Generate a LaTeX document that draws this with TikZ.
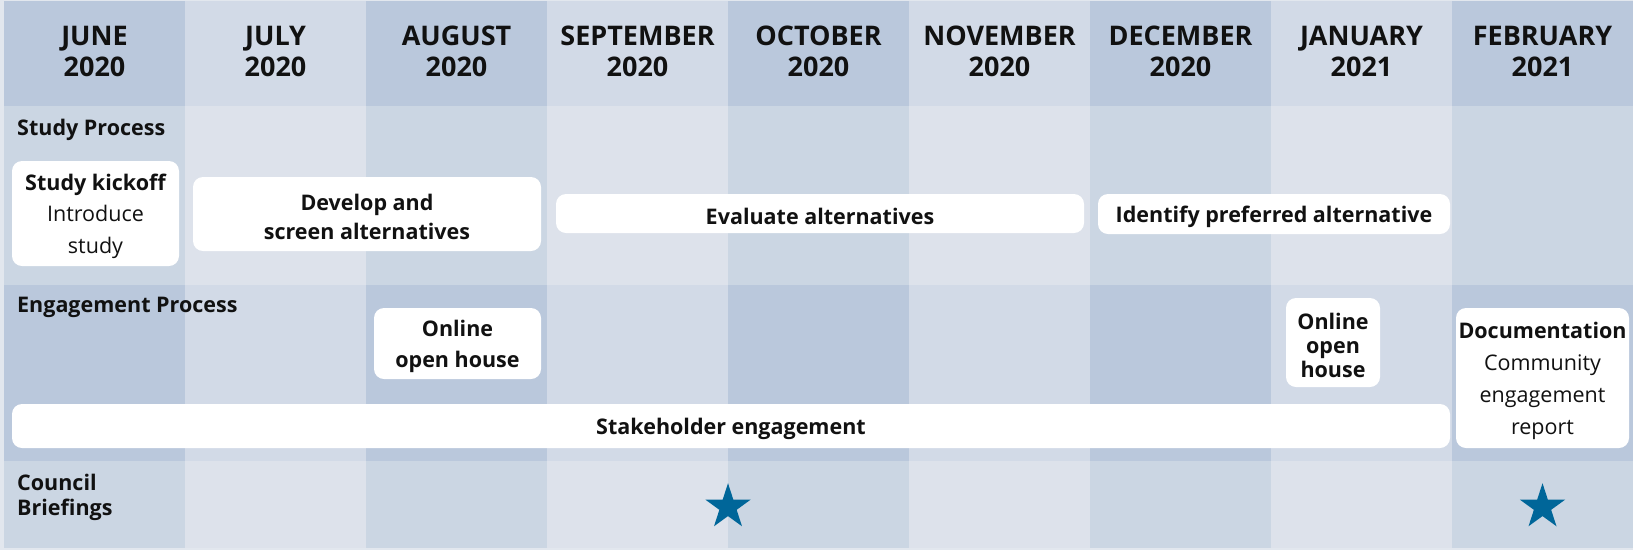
\documentclass[tikz,border=0pt]{standalone}
\usepackage{fontspec}
\setmainfont{Open Sans}
\usetikzlibrary{shapes.geometric}

\definecolor{frame}{RGB}{226,231,238}
\definecolor{headdark}{RGB}{186,200,220}
\definecolor{headlight}{RGB}{210,218,231}
\definecolor{rowdark}{RGB}{203,214,227}
\definecolor{rowlight}{RGB}{221,226,235}
\definecolor{starblue}{RGB}{0,102,153}
\definecolor{ink}{RGB}{17,17,17}

\newcommand\boxfont[1]{\bfseries\fontsize{21.5}{#1}\selectfont}

\tikzset{
  box/.style={fill=white,rounded corners=10pt},
  boxtext/.style={align=center,text=ink,inner sep=0pt,yshift=-2.5pt,font=\boxfont{29}},
  monthtext/.style={align=center,text=ink,inner sep=0pt,font=\bfseries\fontsize{27}{31}\selectfont},
  rowlabel/.style={anchor=base west,align=left,text=ink,inner sep=0pt,yshift=-2pt,font=\boxfont{25}},
  milestone/.style={star,star points=5,star point ratio=2.618,minimum size=47.6pt,inner sep=0pt,fill=starblue}
}

\begin{document}
\begin{tikzpicture}[x=1pt,y=-1pt]
            \useasboundingbox (0,0) rectangle (1633,550);
            \fill[frame] (0,0) rectangle (1633,550);
            % month columns: header, study, engagement, council
            \foreach \i in {0,2,4,6,8}{
                \fill[headdark] (4+181*\i,1) rectangle (185+181*\i,106);
                \fill[rowdark] (4+181*\i,106) rectangle (185+181*\i,285);
                \fill[headdark] (4+181*\i,285) rectangle (185+181*\i,461);
                \fill[rowdark] (4+181*\i,461) rectangle (185+181*\i,548);
            }
            \foreach \i in {1,3,5,7}{
                \fill[headlight] (4+181*\i,1) rectangle (185+181*\i,106);
                \fill[rowlight] (4+181*\i,106) rectangle (185+181*\i,285);
                \fill[headlight] (4+181*\i,285) rectangle (185+181*\i,461);
                \fill[rowlight] (4+181*\i,461) rectangle (185+181*\i,548);
            }
            \foreach \m/\yr [count=\i from 0] in {JUNE/2020,JULY/2020,AUGUST/2020,SEPTEMBER/2020,OCTOBER/2020,NOVEMBER/2020,DECEMBER/2020,JANUARY/2021,FEBRUARY/2021}
                \node[monthtext] (month\i) at (94.5+181*\i,51) {\m\\\yr};

            % row labels
            \node[rowlabel] (studylbl) at (17,133) {Study Process};
            \node[rowlabel] (engagelbl) at (17,310) {Engagement Process};
            \node[rowlabel,anchor=west] (councillbl) at (17,495.5) {Council\\Briefings};

            % study process
            \fill[box] (12,161) rectangle node[boxtext,font=\boxfont{31.5}] (kickoff) {Study kickoff\\{\mdseries Introduce}\\{\mdseries study}} (179,266);
            \fill[box] (193,177) rectangle node[boxtext] (develop) {Develop and\\screen alternatives} (541,251);
            \fill[box] (556,194) rectangle node[boxtext] (evaluate) {Evaluate alternatives} (1084,233);
            \fill[box] (1098,194) rectangle node[boxtext] (identify) {Identify preferred alternative} (1450,234);

            % engagement process
            \fill[box] (374,308) rectangle node[boxtext,font=\boxfont{31}] (openhouse1) {Online\\open house} (541,379);
            \fill[box] (1286,298) rectangle node[boxtext,font=\boxfont{24}] (openhouse2) {Online\\open\\house} (1380,387);
            \fill[box] (1456,308) rectangle node[boxtext,font=\boxfont{32}] (documentation) {Documentation\\{\mdseries Community}\\{\mdseries engagement}\\{\mdseries report}} (1629,448);
            \fill[box] (12,404) rectangle node[boxtext] (stakeholder) {Stakeholder engagement} (1450,448);

            % council briefings
            \node[milestone] (briefing1) at (728,507) {};
            \node[milestone] (briefing2) at (1542.5,507) {};
        \end{tikzpicture}
\end{document}
